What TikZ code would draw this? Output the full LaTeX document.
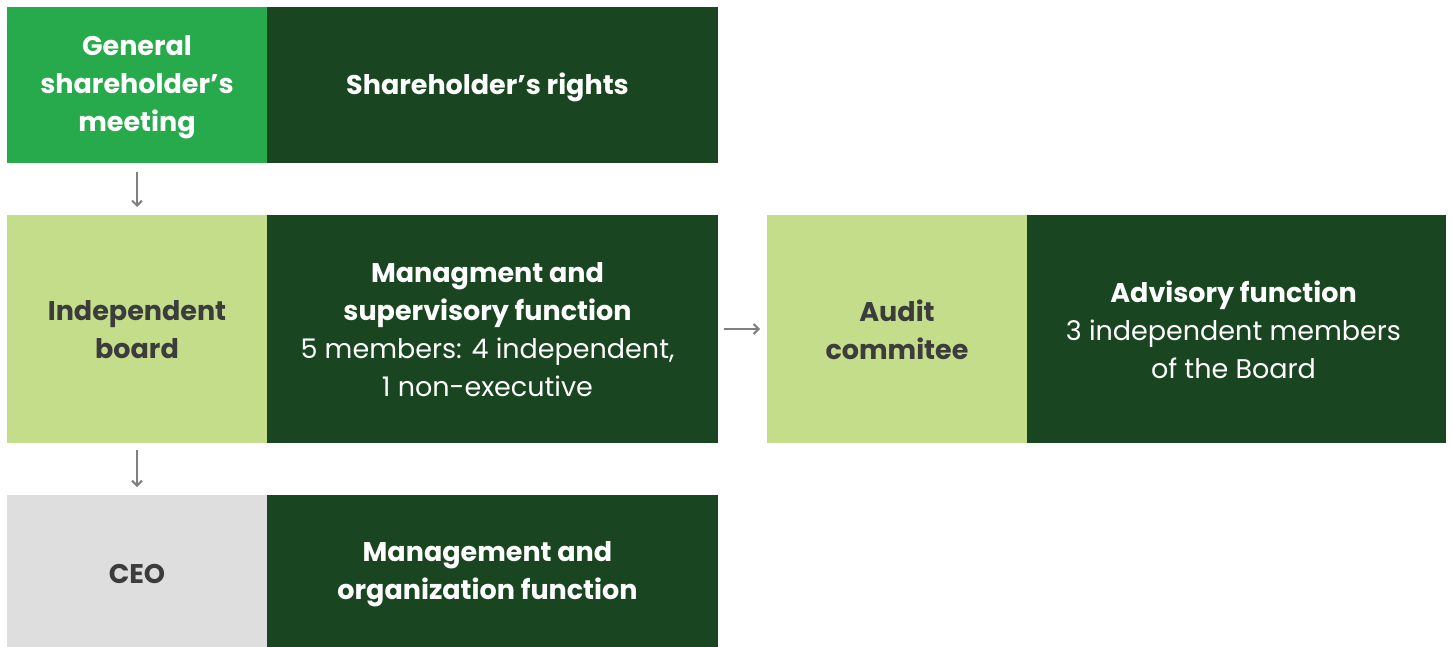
\documentclass[tikz,border=0pt]{standalone}
\usepackage{fontspec}
\setmainfont{Poppins}
\usetikzlibrary{arrows.meta}
\definecolor{brightgreen}{HTML}{27AA4B}
\definecolor{darkgreen}{HTML}{194620}
\definecolor{lightgreen}{HTML}{C3DD8B}
\definecolor{greybox}{HTML}{DEDEDE}
\definecolor{labelgrey}{HTML}{3C3C3C}
\definecolor{arrowgrey}{HTML}{808080}
\tikzset{
  box/.style={rectangle, inner sep=0pt, outer sep=0pt, anchor=north west},
  headbox/.style={box, fill=brightgreen},
  lightbox/.style={box, fill=lightgreen},
  greybox/.style={box, fill=greybox},
  darkbox/.style={box, fill=darkgreen},
  txt/.style={inner sep=0pt, align=center, font=\fontsize{27}{38}\selectfont},
  boldtxt/.style={txt, font=\fontsize{27}{38}\selectfont\bfseries},
  flow/.style={draw=arrowgrey, line width=2pt, -{Straight Barb[length=5pt,width=10pt,line width=2pt]}}
}
\begin{document}
\begin{tikzpicture}[x=1pt,y=-1pt]
\useasboundingbox (0,0) rectangle (1452,647);
% row 1
\node[headbox, minimum width=260pt, minimum height=156pt] (gsm) at (7,7) {};
\node[darkbox, minimum width=451pt, minimum height=156pt] (rights) at (267,7) {};
% row 2
\node[lightbox, minimum width=260pt, minimum height=228pt] (board) at (7,215) {};
\node[darkbox, minimum width=451pt, minimum height=228pt] (mgmt) at (267,215) {};
\node[lightbox, minimum width=260pt, minimum height=228pt] (audit) at (767,215) {};
\node[darkbox, minimum width=419pt, minimum height=228pt] (advisory) at (1027,215) {};
% row 3
\node[greybox, minimum width=260pt, minimum height=152pt] (ceo) at (7,495) {};
\node[darkbox, minimum width=451pt, minimum height=152pt] (org) at (267,495) {};
% texts
\node[boldtxt, text=white] (gsmt) at ([yshift=-2pt]gsm.center) {General\\shareholder's\\meeting};
\node[boldtxt, text=white] (rightst) at ([xshift=-5pt,yshift=-2pt]rights.center) {Shareholder's rights};
\node[boldtxt, text=labelgrey] (boardt) at ([yshift=-1pt]board.center) {Independent\\board};
\node[txt, text=white] (mgmtt) at ([xshift=-5pt,yshift=-1pt]mgmt.center) {\textbf{Managment and}\\\textbf{supervisory function}\\5 members: 4 independent,\\1 non-executive};
\node[boldtxt, text=labelgrey] (auditt) at ([yshift=-1pt]audit.center) {Audit\\commitee};
\node[txt, text=white] (advisoryt) at ([xshift=-3pt,yshift=-1pt]advisory.center) {\textbf{Advisory function}\\3 independent members\\of the Board};
\node[boldtxt, text=labelgrey] (ceot) at ([yshift=-3pt]ceo.center) {CEO};
\node[boldtxt, text=white] (orgt) at ([xshift=-5pt,yshift=-3pt]org.center) {Management and\\organization function};
% connectors
\draw[flow, shorten <=9pt, shorten >=8pt] (gsm.south) -- (board.north);
\draw[flow, shorten <=7pt, shorten >=8pt] (board.south) -- (ceo.north);
\draw[flow, shorten <=6pt, shorten >=7pt] (mgmt.east) -- (audit.west);
\end{tikzpicture}
\end{document}
